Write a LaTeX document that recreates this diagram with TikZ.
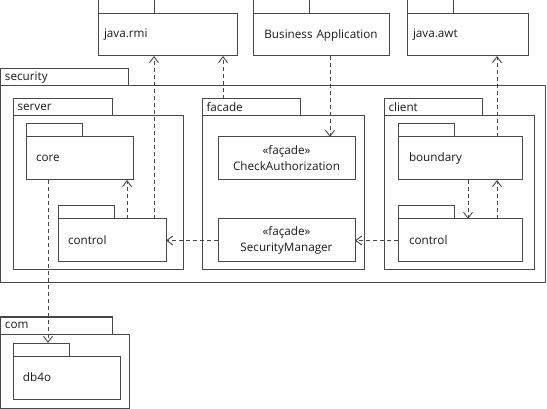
\documentclass[tikz,border=0pt]{standalone}
\usepackage{fontspec}
\setmainfont{Open Sans}
\usetikzlibrary{arrows.meta,calc}
\definecolor{ln}{HTML}{484848}
\definecolor{tx}{HTML}{1A1A1A}
\tikzset{
  pkg/.style={draw=ln, line width=1pt, rectangle, inner sep=0pt, outer sep=0pt, anchor=north west, text=tx, font=\fontsize{11.7}{16}\selectfont},
  dep/.style={draw=ln, line width=0.9pt, dash pattern=on 4pt off 3pt, -{Straight Barb[length=6pt,width=9pt,line width=0.9pt]}}
}
% tab: #1 text, #2 name, #3 x1, #4 y1, #5 x2, #6 y2
\newcommand\pkgtab[6]{%
  \pgfmathsetmacro\pkw{#5-#3}%
  \pgfmathsetmacro\pkh{#6-#4}%
  \node[pkg, minimum width=\pkw pt, minimum height=\pkh pt, text width=\pkw pt-9pt, align=left, inner xsep=4.5pt] (#2) at (#3,#4) {#1};}
\newcommand\pkgcenter[6]{%
  \pgfmathsetmacro\pkw{#5-#3}%
  \pgfmathsetmacro\pkh{#6-#4}%
  \node[pkg, minimum width=\pkw pt, minimum height=\pkh pt, text width=\pkw pt-10pt, align=center, inner xsep=5pt] (#2) at (#3,#4) {#1};}
% body with left text: [#1 padding] #2 text, #3 name, #4..#7 box
\newcommand\pkgleft[7][10]{%
  \pgfmathsetmacro\pkw{#6-#4}%
  \pgfmathsetmacro\pkh{#7-#5}%
  \pgfmathsetmacro\pktw{#6-#4-2*#1}%
  \node[pkg, minimum width=\pkw pt, minimum height=\pkh pt, text width=\pktw pt, align=left, inner xsep=#1pt] (#3) at (#4,#5) {#2};}
\begin{document}
\begin{tikzpicture}[x=1pt,y=-1pt]
\useasboundingbox (0,0) rectangle (547,409);
% top packages
\pkgtab{}{rmiT}{98}{0}{154}{14}
\pkgleft[6]{java.rmi}{rmi}{98}{14}{237}{56}
\pkgtab{}{bizT}{253}{0}{309}{14}
\pkgcenter{Business Application}{biz}{253}{14}{389}{56}
\pkgtab{}{awtT}{407}{0}{453}{14}
\pkgleft[6]{java.awt}{awt}{407}{14}{528}{56}
% security
\pkgtab{security}{secT}{0.5}{69}{128}{86}
\pkgleft{}{sec}{0.5}{86}{545.5}{283}
% server
\pkgtab{server}{srvT}{13}{99}{112}{116}
\pkgleft{}{srv}{13}{116}{183}{270}
\pkgtab{}{coreT}{26}{124}{82}{137}
\pkgleft{core}{core}{26}{137}{133}{180}
\pkgtab{}{ctrlST}{58}{206}{114}{219}
\pkgleft{control}{ctrlS}{58}{219}{166}{262}
% facade
\pkgtab{facade}{facT}{202}{99}{300}{116}
\pkgleft{}{fac}{202}{116}{364}{270}
\pkgcenter{«façade»\\CheckAuthorization}{check}{218}{137}{355}{180}
\pkgcenter{«façade»\\SecurityManager}{secmgr}{218}{219}{355}{262}
% client
\pkgtab{client}{cliT}{384}{99}{482}{116}
\pkgleft{}{cli}{384}{116}{534}{270}
\pkgtab{}{bndT}{398}{124}{454}{137}
\pkgleft[11]{boundary}{bnd}{398}{137}{522}{180}
\pkgtab{}{ctrlCT}{398}{206}{454}{219}
\pkgleft[11]{control}{ctrlC}{398}{219}{522}{262}
% com
\pkgtab{com}{comT}{0.5}{317}{112}{334}
\pkgleft{}{com}{0.5}{334}{129}{408}
\pkgtab{}{dbT}{13}{343}{69}{356}
\pkgleft{db4o}{db}{13}{356}{120}{399}
% dependencies
\coordinate (d1) at ([xshift=69]ctrlS.north west);
\draw[dep] (d1) -- (d1 |- core.south);
\coordinate (d2) at ([xshift=96]ctrlS.north west);
\draw[dep] (d2) -- (d2 |- rmi.south);
\coordinate (d3) at ([xshift=21]facT.north west);
\draw[dep] (d3) -- (d3 |- rmi.south);
\coordinate (d4) at ([xshift=77]biz.south west);
\draw[dep] (d4) -- (d4 |- check.north);
\draw[dep] (secmgr.west) -- (ctrlS.east);
\draw[dep] (ctrlC.west) -- (secmgr.east);
\coordinate (d7) at ([xshift=70]bnd.south west);
\draw[dep] (d7) -- (d7 |- ctrlC.north);
\coordinate (d8) at ([xshift=99]ctrlC.north west);
\draw[dep] (d8) -- (d8 |- bnd.south);
\coordinate (d9) at ([xshift=99]bnd.north west);
\draw[dep] (d9) -- (d9 |- awt.south);
\coordinate (d10) at ([xshift=22]core.south west);
\draw[dep] (d10) -- (d10 |- dbT.north);
\end{tikzpicture}
\end{document}
